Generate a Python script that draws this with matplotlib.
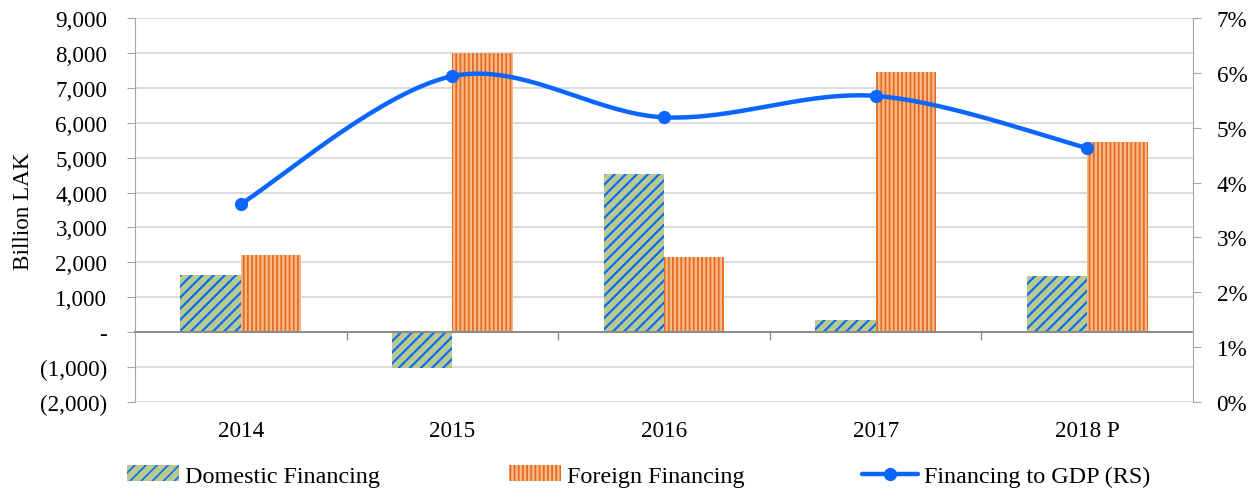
import numpy as np
import matplotlib
matplotlib.use("Agg")
import matplotlib.pyplot as plt
from matplotlib.ticker import FuncFormatter, MultipleLocator
from matplotlib.lines import Line2D
from matplotlib.patches import Patch

categories = ["2014", "2015", "2016", "2017", "2018 P"]
domestic = [1630, -1030, 4530, 340, 1600]
foreign = [2200, 8000, 2150, 7450, 5450]
fin_gdp = [3.61, 5.94, 5.19, 5.58, 4.63]

plt.rcParams['font.family'] = ['Liberation Serif', 'DejaVu Serif']
FS = 16.7
LFS = 17.4
plt.rcParams['font.size'] = FS

BLUE = "#0F6DF2"
YG = "#B9CA8F"
OR_D = "#E46A1C"
OR_L = "#F8B888"
LINE = "#0A66FF"
H_DOM = '///'
H_FOR = '||||'
LW_DOM = 1.6
LW_FOR = 1.25

fig = plt.figure(figsize=(12.48, 4.89), dpi=100)
ax = fig.add_axes([135/1248, 86/489, 1058/1248, 384/489])
x = np.arange(len(categories))
w = 0.285

plt.rcParams['hatch.linewidth'] = LW_DOM
b1 = ax.bar(x - w/2, domestic, w, facecolor=YG, edgecolor=BLUE, linewidth=0, hatch=H_DOM, zorder=2)
plt.rcParams['hatch.linewidth'] = LW_FOR
b2 = ax.bar(x + w/2, foreign, w, facecolor=OR_L, edgecolor=OR_D, linewidth=0, hatch=H_FOR, zorder=2)
for p in b1:
    try: p.set_hatch_linewidth(LW_DOM)
    except Exception: pass
for p in b2:
    try: p.set_hatch_linewidth(LW_FOR)
    except Exception: pass

ax.set_xlim(-0.5, len(categories) - 0.5)
ax.set_ylim(-2000, 9000)
ax.yaxis.set_major_locator(MultipleLocator(1000))

def acct(v, pos):
    if abs(v) < 1e-9:
        return "-"
    if v < 0:
        return "({:,.0f})".format(-v)
    return "{:,.0f}".format(v)

ax.yaxis.set_major_formatter(FuncFormatter(acct))
ax.grid(axis='y', color='#D9D9D9', linewidth=1.3, zorder=0)
ax.set_axisbelow(True)
for s in ['top', 'right']:
    ax.spines[s].set_visible(False)
ax.spines['left'].set_color('#A6A6A6')
ax.spines['bottom'].set_position(('data', 0))
ax.spines['bottom'].set_color('#8C8C8C')
ax.spines['bottom'].set_linewidth(1.5)
ax.spines['bottom'].set_zorder(3)
ax.set_xticks(np.arange(len(categories) - 1) + 0.5)
ax.set_xticklabels([])
ax.tick_params(axis='x', direction='out', length=6, color='#8C8C8C', width=1)
ax.tick_params(axis='y', direction='out', length=6, color='#A6A6A6', pad=14, labelsize=FS)
for i, c in enumerate(categories):
    ax.text(i, -0.075, c, transform=ax.get_xaxis_transform(), ha='center', va='center', fontsize=FS)
ax.set_ylabel("Billion LAK", fontsize=FS)
ax.yaxis.set_label_coords(-0.095, 0.5)

ax2 = ax.twinx()
ax2.set_ylim(0, 7)
ax2.yaxis.set_major_locator(MultipleLocator(1))
ax2.yaxis.set_major_formatter(FuncFormatter(lambda v, p: "{:.0f}%".format(v)))
for s in ['top', 'left', 'bottom']:
    ax2.spines[s].set_visible(False)
ax2.spines['right'].set_color('#A6A6A6')
ax2.tick_params(axis='y', direction='out', length=6, color='#A6A6A6', pad=11, labelsize=FS)

# smooth curve (Bezier smoothing similar to spreadsheet smoothed lines)
px = np.array(x, dtype=float)
py = np.array(fin_gdp, dtype=float)
P = np.column_stack([px, py])
n = len(P)
curve = []
for i in range(n - 1):
    p0 = P[i - 1] if i > 0 else P[i]
    p1 = P[i]
    p2 = P[i + 1]
    p3 = P[i + 2] if i + 2 < n else P[i + 1]
    c1 = p1 + (p2 - p0) / 6
    c2 = p2 - (p3 - p1) / 6
    t = np.linspace(0, 1, 40)[:, None]
    seg = (1 - t) ** 3 * p1 + 3 * (1 - t) ** 2 * t * c1 + 3 * (1 - t) * t ** 2 * c2 + t ** 3 * p2
    curve.append(seg)
curve = np.vstack(curve)
ax2.plot(curve[:, 0], curve[:, 1], color=LINE, linewidth=3.2, solid_capstyle='round', zorder=4)
ax2.plot(px, py, linestyle='none', marker='o', markersize=8.5, color=LINE, zorder=5)

# legend: three separate entries placed like the reference
leg_y = 477 / 489
items = [
    (Patch(facecolor=YG, edgecolor=BLUE, linewidth=0, hatch=H_DOM), "Domestic Financing", 127, 2.15),
    (Patch(facecolor=OR_L, edgecolor=OR_D, linewidth=0, hatch=H_FOR), "Foreign Financing", 509, 2.15),
    (Line2D([0], [0], color=LINE, linewidth=3.2, marker='o', markersize=8.5, solid_capstyle='round'),
     "Financing to GDP (RS)", 862, 2.3),
]
for h, lab, xp, hl in items:
    lg = fig.legend([h], [lab], loc='center left', bbox_to_anchor=(xp / 1248, 1 - leg_y),
                    frameon=False, fontsize=LFS, handlelength=hl, handletextpad=0.25,
                    handleheight=0.66, borderpad=0, borderaxespad=0)

fig.savefig("out.png", dpi=100)
